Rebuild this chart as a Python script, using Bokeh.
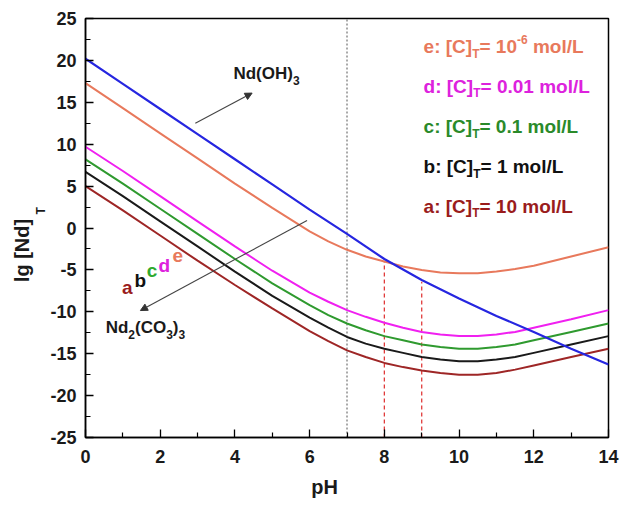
import math
from bokeh.plotting import figure
from bokeh.models import (Range1d, FixedTicker, Arrow, NormalHead, Title, ColumnDataSource,
                          PrintfTickFormatter)
from bokeh.embed import file_html
from bokeh.resources import INLINE
from bokeh.core.properties import value

# ---------------- data ----------------
ph_blue = [0, 1, 2, 3, 4, 5, 6, 7, 8, 9, 10, 11, 12, 13, 14]
nd_oh3 = [20.2, 17.2, 14.2, 11.2, 8.2, 5.2, 2.2, -0.7, -3.7, -6.2, -8.4, -10.5, -12.4, -14.4, -16.3]

ph = [0, 1, 2, 3, 4, 5, 6, 6.5, 7, 7.5, 8, 8.5, 9, 9.5, 10, 10.5, 11, 11.5, 12, 13, 14]
curve_e = [17.3, 14.3, 11.3, 8.3, 5.3, 2.4, -0.4, -1.6, -2.6, -3.4, -4.0, -4.6, -5.0, -5.3, -5.4, -5.4, -5.2, -4.9, -4.5, -3.4, -2.3]
curve_d = [9.7, 6.8, 3.8, 0.8, -2.2, -5.1, -7.7, -8.8, -9.8, -10.6, -11.3, -11.9, -12.4, -12.7, -12.9, -12.9, -12.7, -12.4, -11.9, -10.9, -9.8]
curve_c = [8.2, 5.3, 2.3, -0.7, -3.7, -6.6, -9.2, -10.4, -11.4, -12.2, -12.9, -13.4, -13.9, -14.2, -14.4, -14.4, -14.2, -13.9, -13.4, -12.4, -11.4]
curve_b = [6.7, 3.8, 0.8, -2.2, -5.2, -8.1, -10.7, -11.9, -13.0, -13.8, -14.4, -14.9, -15.4, -15.7, -15.9, -15.9, -15.7, -15.4, -14.9, -13.9, -12.9]
curve_a = [5.0, 2.1, -0.9, -3.9, -6.8, -9.6, -12.3, -13.5, -14.6, -15.4, -16.1, -16.6, -17.0, -17.3, -17.5, -17.5, -17.3, -16.9, -16.4, -15.4, -14.4]

legend_labels = ["e", "d", "c", "b", "a"]
legend_conc = ["10", "0.01", "0.1", "1", "10"]
legend_sup = ["-6", "", "", "", ""]

neutral_ph = [7]
dash_ph = [8, 9]
dash_top = [-4.0, -6.4]

x_ticks = [0, 2, 4, 6, 8, 10, 12, 14]
x_minor = [1, 3, 5, 7, 9, 11, 13]
y_ticks = [-25, -20, -15, -10, -5, 0, 5, 10, 15, 20, 25]
y_minor = [-22.5, -17.5, -12.5, -7.5, -2.5, 2.5, 7.5, 12.5, 17.5, 22.5]

# ---------------- styling ----------------
COL = {"e": "#e8795c", "d": "#f020f0", "c": "#2f9a2f", "b": "#1a1a1a", "a": "#9e2626"}
TXT = {"e": "#e8795c", "d": "#dd22dd", "c": "#2a8a2a", "b": "#111111", "a": "#9a1c1c"}
BLUE = "#2626e0"
FONT = "Liberation Sans"

W = {" ": 278, ":": 333, "[": 333, "]": 333, "(": 333, ")": 333, "=": 584, "-": 333,
     ".": 278, "/": 278, "C": 722, "L": 611, "N": 722, "O": 778, "H": 722, "T": 611,
     "a": 556, "b": 611, "c": 556, "d": 611, "e": 556, "g": 611, "l": 278, "m": 889, "o": 611,
     "p": 611}


def tw(s, size):
    return sum(W.get(ch, 556) for ch in s) * size / 1000.0


main_rows = dict(x=[], y=[], text=[], xo=[], yo=[], color=[], size=[])
small_rows = dict(x=[], y=[], text=[], xo=[], yo=[], color=[], size=[])


def compose(pieces, x0, y0, color, msize, ssize):
    off = 0.0
    for txt, kind in pieces:
        if not txt:
            continue
        if kind == "m":
            rows, size, yo = main_rows, msize, 0
        else:
            rows, size = small_rows, ssize
            yo = 7 if kind == "sub" else -7
        lead = len(txt) - len(txt.lstrip(" "))
        off += tw(" " * lead, size)
        core = txt.lstrip(" ")
        rows["x"].append(x0); rows["y"].append(y0); rows["text"].append(core)
        rows["xo"].append(off); rows["yo"].append(yo); rows["color"].append(color)
        rows["size"].append(f"{size}px")
        off += tw(core, size)


p = figure(width=628, height=506, x_range=Range1d(0, 14), y_range=Range1d(-25, 25),
           output_backend="svg", toolbar_location=None,
           min_border_left=85, min_border_right=20, min_border_top=18, min_border_bottom=69)
p.background_fill_color = "white"
p.border_fill_color = "white"
p.grid.visible = False
p.outline_line_color = "black"
p.outline_line_width = 1.5
p.outline_line_alpha = 1.0

for ax, tk, mn, so in ((p.xaxis, x_ticks, x_minor, 12), (p.yaxis, y_ticks, y_minor, 9)):
    ax.ticker = FixedTicker(ticks=tk, minor_ticks=mn)
    ax.formatter = PrintfTickFormatter(format="%d")
    ax.axis_line_width = 1.5
    ax.axis_line_color = "black"
    ax.major_tick_in = 8
    ax.major_tick_out = 0
    ax.minor_tick_in = 5
    ax.minor_tick_out = 0
    ax.major_tick_line_width = 1.3
    ax.minor_tick_line_width = 1.2
    ax.major_tick_line_color = "black"
    ax.minor_tick_line_color = "black"
    ax.major_label_text_font = FONT
    ax.major_label_text_font_size = "18px"
    ax.major_label_text_font_style = "bold"
    ax.major_label_text_color = "#1a1a1a"
    ax.major_label_standoff = so

# reference lines
p.segment(x0=neutral_ph, y0=[-25], x1=neutral_ph, y1=[25], line_color="#555555",
          line_width=1, line_dash="2 2")
p.segment(x0=dash_ph, y0=[-25, -25], x1=dash_ph, y1=dash_top, line_color="#e03a3a",
          line_width=1.3, line_dash="4 3")

# curves
for key, ys in (("a", curve_a), ("b", curve_b), ("c", curve_c), ("d", curve_d), ("e", curve_e)):
    p.line(ph, ys, line_color=COL[key], line_width=2)
p.line(ph_blue, nd_oh3, line_color=BLUE, line_width=2.2)

# arrows
p.add_layout(Arrow(end=NormalHead(size=7, fill_color="#333333", line_color="#333333"),
                   x_start=2.94, y_start=12.5, x_end=4.46, y_end=16.1,
                   line_color="#444444", line_width=1.1))
p.add_layout(Arrow(end=NormalHead(size=7, fill_color="#333333", line_color="#333333"),
                   x_start=5.93, y_start=0.9, x_end=1.47, y_end=-9.85,
                   line_color="#444444", line_width=1.1))

# legend texts
leg_y = [21.6, 16.9, 12.1, 7.3, 2.6]
for lab, conc, sup, yy in zip(legend_labels, legend_conc, legend_sup, leg_y):
    compose([(f"{lab}: [C]", "m"), ("T", "sub"), (f"= {conc}", "m"), (sup, "sup"), (" mol/L", "m")],
            9.05, yy, TXT[lab], 19, 12)

# species labels
compose([("Nd(OH)", "m"), ("3", "sub")], 3.96, 18.4, "#1a1a1a", 17, 12)
compose([("Nd", "m"), ("2", "sub"), ("(CO", "m"), ("3", "sub"), (")", "m"), ("3", "sub")],
        0.54, -11.9, "#1a1a1a", 17, 12)

for rows in (main_rows, small_rows):
    src = ColumnDataSource(rows)
    p.text(x="x", y="y", text="text", x_offset="xo", y_offset="yo", text_color="color",
           text_font_size="size", text_font=value(FONT), text_font_style="bold",
           text_align="left", text_baseline="middle", source=src)

# a..e markers
let_x = [1.12, 1.47, 1.78, 2.11, 2.47]
let_y = [-7.1, -6.26, -5.07, -4.47, -3.28]
lets = ["a", "b", "c", "d", "e"]
p.text(x=let_x, y=let_y, text=lets, text_color=[TXT[k] if k != "c" else "#2faa2f" for k in lets],
       text_font=value(FONT), text_font_style="bold", text_font_size="19px",
       text_align="center", text_baseline="middle")

# axis titles as side-panel titles (positioned with offsets along the frame)
frame_h = 506 - 18 - 69
y_main = "lg [Nd]"
t_sub = Title(text="T", align="left", offset=frame_h - (210 + 4) + 18, standoff=0,
              text_font=FONT, text_font_size="12px", text_font_style="bold",
              text_color="#1a1a1a")
t_main = Title(text=y_main, align="left", offset=frame_h - (250 + tw(y_main, 20) / 2) + 18,
               standoff=-3, text_font=FONT, text_font_size="20px", text_font_style="bold",
               text_color="#1a1a1a")
p.add_layout(t_sub, "left")
p.add_layout(t_main, "left")
t_ph = Title(text="pH", align="left", offset=324 - tw("pH", 20) / 2 - 85, standoff=17,
             text_font=FONT, text_font_size="20px", text_font_style="bold",
             text_color="#1a1a1a")
p.add_layout(t_ph, "below")

open("out.html", "w").write(file_html(p, INLINE))
